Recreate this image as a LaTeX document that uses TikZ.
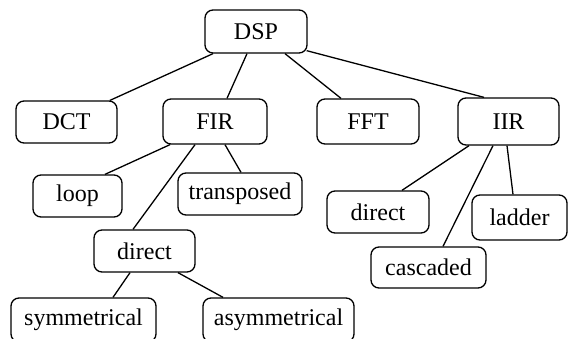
\documentclass[tikz,border=0pt]{standalone}
\usepackage{fontspec}
\setmainfont{Liberation Serif}
\begin{document}
\begin{tikzpicture}[x=1pt,y=-1pt,
  treebox/.style={draw, line width=1.3pt, rounded corners=8pt, inner sep=0pt,
    font=\fontsize{24}{28}\selectfont},
  branch/.style={line width=1.3pt}]
\useasboundingbox (0,0) rectangle (568,339);

% level 0
\node[treebox, minimum width=102pt, minimum height=43pt] (dsp) at (256,31.5) {DSP};
% level 1
\node[treebox, minimum width=101pt, minimum height=42pt] (dct) at (66.5,122) {DCT};
\node[treebox, minimum width=104pt, minimum height=45pt] (fir) at (215,121.5) {FIR};
\node[treebox, minimum width=102pt, minimum height=45pt] (fft) at (368,121.5) {FFT};
\node[treebox, minimum width=101pt, minimum height=47pt] (iir) at (508.5,121.5) {IIR};
% FIR structures
\node[treebox, minimum width=89pt, minimum height=42pt] (loop) at (77.5,196) {loop};
\node[treebox, minimum width=124pt, minimum height=42pt] (transp) at (240,194) {transposed};
\node[treebox, minimum width=101pt, minimum height=42pt] (firdirect) at (144.5,251) {direct};
\node[treebox, minimum width=145pt, minimum height=44pt] (sym) at (83.5,320) {symmetrical};
\node[treebox, minimum width=151pt, minimum height=44pt] (asym) at (278.5,320) {asymmetrical};
% IIR structures
\node[treebox, minimum width=102pt, minimum height=42pt] (iirdirect) at (378,212) {direct};
\node[treebox, minimum width=115pt, minimum height=41pt] (casc) at (428.5,267.5) {cascaded};
\node[treebox, minimum width=95pt, minimum height=45pt] (ladder) at (519.5,217.5) {ladder};

% branches
\draw[branch] ([xshift=-43pt]dsp.south) -- ([xshift=43.5pt]dct.north);
\draw[branch] ([xshift=-9pt]dsp.south) -- ([xshift=12pt]fir.north);
\draw[branch] ([xshift=29pt]dsp.south) -- ([xshift=-27pt]fft.north);
\draw[branch] ([xshift=-1pt,yshift=3pt]dsp.south east) -- ([xshift=-24.5pt]iir.north);

\draw[branch] ([xshift=-45pt]fir.south) -- ([xshift=27.5pt]loop.north);
\draw[branch] ([xshift=-20pt]fir.south) -- ([xshift=-11.5pt]firdirect.north);
\draw[branch] ([xshift=10pt]fir.south) -- ([xshift=1pt]transp.north);

\draw[branch] ([xshift=-14.5pt]firdirect.south) -- ([xshift=29.5pt]sym.north);
\draw[branch] ([xshift=33.5pt]firdirect.south) -- ([xshift=-55.5pt]asym.north);

\draw[branch] ([xshift=-39.5pt]iir.south) -- ([xshift=24pt]iirdirect.north);
\draw[branch] ([xshift=-15.5pt]iir.south) -- ([xshift=14.5pt]casc.north);
\draw[branch] ([xshift=-1.5pt]iir.south) -- ([xshift=-6.5pt]ladder.north);
\end{tikzpicture}
\end{document}
